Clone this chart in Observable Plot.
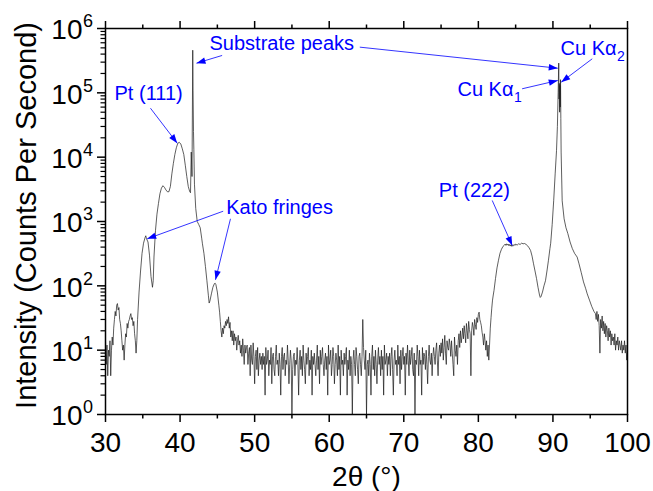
<!DOCTYPE html>
<html>
<head>
<meta charset="utf-8">
<script src="https://cdn.jsdelivr.net/npm/d3@7"></script>
<script src="https://cdn.jsdelivr.net/npm/@observablehq/plot@0.6"></script>
<style>
  html, body { margin: 0; padding: 0; background: #fff; }
</style>
</head>
<body>
<div id="chart"></div>
<script>
// ---------------- DATA ----------------
// Pt (111) region incl. Kato fringes and substrate peak (2θ, counts/s)
const ptRegionAngle = [
  30.0,30.1,30.2,30.3,30.4,30.5,30.6,30.7,30.8,30.9,
  31.0,31.1,31.2,31.3,31.4,31.5,31.6,31.7,31.8,31.9,
  32.0,32.1,32.2,32.3,32.4,32.5,32.6,32.7,32.8,32.9,
  33.0,33.1,33.2,33.3,33.4,33.5,33.6,33.7,33.8,33.9,
  34.0,34.1,34.2,34.3,34.5,34.7,34.9,35.1,35.3,35.4,
  35.5,35.7,35.9,36.1,36.3,36.4,36.5,36.7,36.9,37.1,
  37.3,37.5,37.7,37.9,38.1,38.3,38.5,38.7,38.9,39.1,
  39.3,39.5,39.7,39.9,40.1,40.3,40.5,40.7,40.9,41.1,
  41.3,41.4,41.5,41.6,41.7,41.74,41.8,41.85,41.93,42.1,
  42.3,42.5,42.7,42.9,43.0,43.2,43.4,43.6,43.8,43.9,
  44.0,44.2,44.4,44.6,44.7,44.8,45.0,45.2,45.3,45.4,
  45.5,45.6,45.7,45.8,45.9
];
const ptRegionCounts = [
  14,6,12,4,10,8,14,4,10,16,
  12,22,30,40,34,50,53,42,46,30,
  26,20,14,10,12,7,12,18,16,26,
  22,28,30,34,37,30,32,24,28,18,
  14,9,14,30,80,170,320,460,560,600,
  540,480,300,140,95,120,280,720,1300,1900,
  2700,3300,3600,3400,3100,2900,2900,3500,5500,8000,
  11000,14000,16500,17000,16000,13500,11000,7500,5000,3500,
  2900,2800,12000,5000,460000,110000,25000,13000,3800,1600,
  1000,900,800,550,450,320,200,120,70,54,
  58,75,95,108,110,105,80,50,39,28,
  20,16,22,18,24
];

// Noisy background, measured every 0.1° from 46.0° to 81.9°
const noiseStartAngle = 46.0;
const noiseStepAngle = 0.1;
const noiseCounts = [
  22,28,24,30,26,33,22,27,16,20,
  14,20,12,18,14,16,10,14,17,12,
  14,9,12,8,15,10,6,12,9,11,
  12,6,9,11,4,12,7,6,13,8,
  3,8,10,5,11,4,7,9,6,8,
  5,9,6,8,2,11,6,7,10,4,
  7,6,11,3,8,9,5,4,8,12,
  6,7,4,9,6,2,8,11,5,8,
  9,4,7,6,12,7,3,6,10,7,
  1,5,8,9,4,7,6,11,6,2,
  7,10,5,8,4,12,7,5,3,9,
  6,8,11,4,7,5,10,2,8,6,
  9,6,4,7,12,5,8,3,10,6,
  8,11,6,4,7,9,5,8,2,12,
  6,7,10,4,6,11,8,3,6,9,
  7,4,12,5,8,2,10,6,7,4,
  9,6,8,11,2,7,5,10,4,8,
  6,1,7,10,6,4,11,8,5,3,
  8,9,6,4,8,30,11,7,5,10,
  1,6,7,4,9,6,2,8,12,5,
  8,4,10,6,3,7,11,6,8,4,
  10,5,8,2,12,6,7,9,4,8,
  6,9,4,8,11,5,2,7,10,6,
  7,4,12,6,8,3,10,5,8,11,
  6,8,2,9,6,12,7,4,10,6,
  8,11,5,4,9,1,7,6,12,8,
  4,10,6,7,2,11,6,9,8,5,
  10,6,3,8,12,7,6,9,4,8,
  11,8,6,10,13,7,4,9,12,8,
  13,9,15,7,11,17,9,6,14,11,
  10,15,12,8,14,9,6,4,16,10,
  8,12,6,14,18,11,20,13,16,22,
  15,24,18,13,26,20,15,28,21,18,
  4,20,27,23,17,30,25,21,32,27,
  36,39,30,27,24,19,16,12,18,14,
  10,14,8,12,7,12,22,32,45,60
];

// Pt (222) region and Cu Kα1/Kα2 substrate peak
const cuRegionAngle = [
  82.0,82.1,82.3,82.5,82.7,82.9,83.1,83.3,83.5,83.6,
  83.7,83.8,83.9,84.0,84.1,84.2,84.3,84.4,84.5,84.6,
  84.7,84.8,84.9,85.0,85.2,85.4,85.6,85.8,86.0,86.2,
  86.4,86.6,86.8,87.0,87.2,87.4,87.6,87.8,88.0,88.2,
  88.3,88.4,88.6,88.8,89.0,89.2,89.4,89.6,89.7,89.9,
  90.1,90.3,90.48,90.6,90.7,90.78,90.82,90.86,90.9,90.94,
  90.98,91.02,91.06,91.1,91.24,91.5,91.75,92.0,92.3,92.6,
  92.9,93.25,93.5,93.8,94.1,94.4,94.6,94.9,95.2,95.5,
  95.7,95.8,95.9,96.0,96.1,96.2,96.3,96.4,96.5,96.6,
  96.7,96.8,96.9,97.0,97.1,97.2,97.3,97.4,97.5,97.6,
  97.7,97.8,97.9,98.0,98.1,98.2,98.3,98.4,98.5,98.6,
  98.7,98.8,98.9,99.0,99.1,99.2,99.3,99.4,99.5,99.6,
  99.7,99.8,99.9,100.0
];
const cuRegionCounts = [
  72,85,130,190,250,320,370,410,430,445,
  425,450,430,445,420,440,415,435,410,430,
  420,440,425,445,430,450,440,460,450,455,
  440,420,390,355,290,220,170,130,95,72,
  66,68,80,100,120,170,250,380,460,900,
  2100,5500,12600,30000,100000,290000,80000,140000,50000,130000,
  60000,160000,40000,12000,2100,1100,800,650,480,380,
  320,280,220,160,115,90,75,60,48,40,
  37,30,40,28,36,24,9,30,22,34,
  20,28,18,26,16,24,20,14,22,16,
  20,12,18,14,16,12,18,10,14,12,
  16,10,14,12,10,14,9,12,10,14,
  9,12,7,10
];

// Axis ticks
const xMajorTicks = [30, 40, 50, 60, 70, 80, 90, 100];
const xMinorTicks = [35, 45, 55, 65, 75, 85, 95];
const yDecades = [1, 10, 100, 1000, 10000, 100000, 1000000];
const yExponents = ["0", "1", "2", "3", "4", "5", "6"];
const yMinorMantissas = [2, 3, 4, 5, 6, 7, 8, 9];

// Annotations (data coordinates)
const labelText = ["Substrate peaks", "Pt (111)", "Kato fringes", "Pt (222)"];
const labelAngle = [43.95, 31.21, 46.19, 74.70];
const labelCounts = [585000, 98900, 1633, 3034];

const cuLabelSub = ["2", "1"];
const cuLabelAngle = [98.53, 84.71];
const cuLabelCounts = [490000, 112700];

const arrowFromAngle = [45.64, 64.10, 95.27, 85.87, 36.03, 45.78, 46.76, 81.86];
const arrowFromCounts = [381000, 513000, 338000, 115600, 57700, 1445, 1102, 2123];
const arrowToAngle = [42.20, 90.65, 91.11, 90.65, 39.62, 35.59, 44.75, 84.54];
const arrowToCounts = [289000, 241500, 146600, 155600, 16480, 538, 124, 424];

// ---------------- BUILD ----------------
const noiseAngle = noiseCounts.map((_, i) => +(noiseStartAngle + i * noiseStepAngle).toFixed(2));
const pattern = [
  ...ptRegionAngle.map((a, i) => ({a, c: ptRegionCounts[i]})),
  ...noiseAngle.map((a, i) => ({a, c: noiseCounts[i]})),
  ...cuRegionAngle.map((a, i) => ({a, c: cuRegionCounts[i]}))
];

const yMinorTicks = [];
for (let k = 0; k < 6; k++) for (const m of yMinorMantissas) yMinorTicks.push(m * yDecades[k]);

const W = 653, H = 491;
const frame = {width: W, height: H, marginLeft: 105, marginRight: 26, marginTop: 28, marginBottom: 77};
const xOpt = {domain: [30, 100], axis: null};
const yOpt = {type: "log", domain: [1, 1e6], axis: null};

const probe = Plot.plot({...frame, x: xOpt, y: yOpt, marks: [Plot.frame()]});
const sx = probe.scale("x"), sy = probe.scale("y");

const arrows = arrowFromAngle.map((x1, i) => {
  const x2 = arrowToAngle[i], y1 = arrowFromCounts[i], y2 = arrowToCounts[i];
  const dxp = sx.apply(x2) - sx.apply(x1);
  const dyp = sy.apply(y2) - sy.apply(y1);
  return {x1, y1, x2, y2, rot: Math.atan2(dxp, -dyp) * 180 / Math.PI};
});

const arrowHead = {
  draw(ctx) {
    ctx.moveTo(0, 0);
    ctx.lineTo(-3.2, 9);
    ctx.lineTo(3.2, 9);
    ctx.closePath();
  }
};

const blue = "#0000ff";
const labels = labelText.map((t, i) => ({t, x: labelAngle[i], y: labelCounts[i]}));
const cuLabels = cuLabelSub.map((s, i) => ({s, x: cuLabelAngle[i], y: cuLabelCounts[i]}));

const chart = Plot.plot({
  ...frame,
  x: xOpt,
  y: yOpt,
  style: {fontFamily: "'Liberation Sans', Arial, sans-serif", background: "#fff", color: "#000"},
  marks: [
    Plot.line(pattern, {x: "a", y: "c", stroke: "#1a1a1a", strokeWidth: 0.7, clip: true}),
    Plot.frame({stroke: "#000", strokeWidth: 1.5}),
    // bottom axis
    Plot.axisX({anchor: "bottom", ticks: xMajorTicks, tickSize: 8, tickPadding: 10, strokeWidth: 1.5,
      tickFormat: d => String(d), fontSize: 28, label: null}),
    Plot.axisX({anchor: "bottom", ticks: xMinorTicks, tickSize: 4.5, strokeWidth: 1.5,
      tickFormat: () => "", label: null}),
    // top axis
    Plot.axisX({anchor: "top", ticks: xMajorTicks, tickSize: 8, strokeWidth: 1.5,
      tickFormat: () => "", label: null}),
    Plot.axisX({anchor: "top", ticks: xMinorTicks, tickSize: 4.5, strokeWidth: 1.5,
      tickFormat: () => "", label: null}),
    // left axis
    Plot.axisY({anchor: "left", ticks: yDecades, tickSize: 8, strokeWidth: 1.5,
      tickFormat: () => "", label: null}),
    Plot.axisY({anchor: "left", ticks: yMinorTicks, tickSize: 4.5, strokeWidth: 1.2,
      tickFormat: () => "", label: null}),
    // y tick labels 10^n
    Plot.text(yDecades, {y: d => d, frameAnchor: "left", text: () => "10", textAnchor: "end",
      dx: -23, dy: 2, fontSize: 28}),
    Plot.text(yDecades, {y: d => d, frameAnchor: "left", text: (d, i) => yExponents[i], textAnchor: "start",
      dx: -22.5, dy: -7, fontSize: 18}),
    // axis titles
    Plot.text(["Intensity (Counts Per Second)"], {frameAnchor: "left", textAnchor: "middle", lineAnchor: "middle",
      rotate: -90, dx: -79, dy: -6, fontSize: 29}),
    Plot.text(["2θ (°)"], {frameAnchor: "bottom", textAnchor: "middle", lineAnchor: "middle", dy: 63, fontSize: 28}),
    // annotations
    Plot.link(arrows, {x1: "x1", y1: "y1", x2: "x2", y2: "y2", stroke: blue, strokeWidth: 0.8}),
    Plot.dot(arrows, {x: "x2", y: "y2", symbol: arrowHead, rotate: "rot", r: 4, fill: blue, stroke: "none"}),
    Plot.text(labels, {x: "x", y: "y", text: "t", textAnchor: "start", fill: blue, fontSize: 20}),
    Plot.text(cuLabels, {x: "x", y: "y", text: () => "Cu Kα", textAnchor: "end", fill: blue, fontSize: 20}),
    Plot.text(cuLabels, {x: "x", y: "y", text: "s", textAnchor: "start", dx: 0.5, dy: 8.5, fill: blue, fontSize: 14})
  ]
});

document.getElementById("chart").appendChild(chart);
</script>
</body>
</html>
